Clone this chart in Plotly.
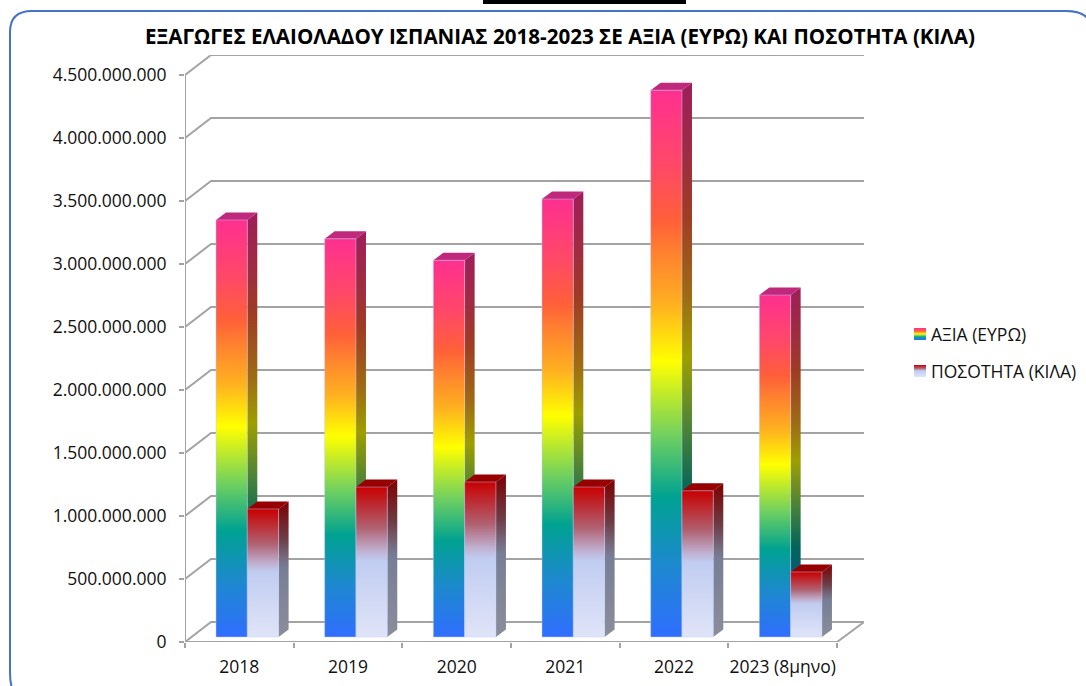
import plotly.graph_objects as go

categories = ["2018", "2019", "2020", "2021", "2022", "2023 (8μηνο)"]
value_eur = [3.31e9, 3.16e9, 2.99e9, 3.476e9, 4.34e9, 2.714e9]
quantity_kg = [1.016e9, 1.19e9, 1.23e9, 1.19e9, 1.16e9, 0.516e9]
y_ticks = [i * 5e8 for i in range(10)]
title = "ΕΞΑΓΩΓΕΣ ΕΛΑΙΟΛΑΔΟΥ ΙΣΠΑΝΙΑΣ 2018-2023 ΣΕ ΑΞΙΑ (ΕΥΡΩ) ΚΑΙ ΠΟΣΟΤΗΤΑ (ΚΙΛΑ)"
series_names = ["ΑΞΙΑ (ΕΥΡΩ)", "ΠΟΣΟΤΗΤΑ (ΚΙΛΑ)"]

W, H = 1086, 686
FONT = "Open Sans"
GRID = "#a3a3a3"
# pixel geometry of the pseudo-3D box
L, R, T, B = 185, 864, 55, 642
CAT_PX, STEP_PX = 108.67, 63.0
DX = 1 / CAT_PX      # category units per px
DY = 5e8 / STEP_PX   # value units per px

rainbow = [(0, (48, 110, 255)), (0.128, (30, 136, 208)), (0.256, (0, 162, 145)),
           (0.368, (112, 208, 96)), (0.504, (255, 255, 0)), (0.608, (255, 176, 32)),
           (0.704, (255, 128, 48)), (0.76, (255, 96, 56)), (0.864, (255, 72, 104)), (1, (255, 48, 144))]
redfade = [(0, (224, 228, 248)), (0.51, (192, 204, 240)), (0.576, (192, 176, 208)),
           (0.73, (176, 96, 112)), (1, (200, 0, 0))]


def scale(stops, k=1.0):
    return [[p, "rgb(%d,%d,%d)" % tuple(round(c * k) for c in col)] for p, col in stops]


fig = go.Figure()


def line(xs, ys, color=GRID, width=2):
    fig.add_trace(go.Scatter(x=xs, y=ys, mode="lines", line=dict(color=color, width=width),
                             hoverinfo="skip", showlegend=False, cliponaxis=False))


# walls: oblique lines on the left wall, horizontal lines on the back wall
for v in y_ticks:
    line([0, 26 * DX, (R - L) * DX], [v, v + 20 * DY, v + 20 * DY])
line([6, (R - L) * DX], [0, 20 * DY])
line([0, 0], [0, 4.5e9])
line([0, 6], [0, 0])


def bar(i, lo_px, val, stops, top_col, name):
    x0 = i + lo_px * DX
    x1 = x0 + 31.3 * DX
    base = 5 * DY
    h = base + val
    sx, sy = 10 * DX, 7.5 * DY
    fig.add_trace(go.Scatter(x=[x1, x1 + sx, x1 + sx, x1, x1], y=[base, base + sy, h + sy, h, base],
                             mode="none", fill="toself", showlegend=False, hoverinfo="skip",
                             fillgradient=dict(type="vertical", colorscale=scale(stops, 0.62)),
                             cliponaxis=False))
    fig.add_trace(go.Scatter(x=[x0, x1, x1 + sx, x0 + sx, x0], y=[h, h, h + sy, h + sy, h],
                             mode="none", fill="toself", fillcolor=top_col, showlegend=False,
                             hoverinfo="skip", cliponaxis=False))
    fig.add_trace(go.Scatter(x=[x0, x1, x1, x0, x0], y=[base, base, h, h, base],
                             mode="lines", line=dict(color="rgba(190,205,255,0.45)", width=1),
                             fill="toself", name=name, showlegend=False,
                             hoverinfo="skip",
                             fillgradient=dict(type="vertical", colorscale=scale(stops)),
                             cliponaxis=False))


for i, cat in enumerate(categories):
    bar(i, 31, value_eur[i], rainbow, "#c0287c", series_names[0])
    bar(i, 62.3, quantity_kg[i], redfade, "#960000", series_names[1])

# key: gradient swatches beside the series names, on a hidden pixel-scaled axis pair
annotations = []
for name, stops, y_px in zip(series_names, (rainbow, redfade), (334, 371)):
    x0, x1 = 914, 926
    y0, y1 = y_px - 6, y_px + 6
    fig.add_trace(go.Scatter(x=[x0, x1, x1, x0, x0], y=[y0, y0, y1, y1, y0], mode="none", fill="toself",
                             xaxis="x2", yaxis="y2", showlegend=False, hoverinfo="skip",
                             fillgradient=dict(type="vertical", colorscale=scale(stops))))
    annotations.append(dict(text=name, xref="paper", yref="paper", x=931 / W, y=1 - (y_px - 0.5) / H,
                            xanchor="left", yanchor="middle", showarrow=False,
                            font=dict(family=FONT, size=17.5), xshift=-2))

px_y = lambda y: (H - y) / H
px_x = lambda x: x / W
f = lambda x, y: f"{px_x(x):.5f},{px_y(y):.5f}"
border = ("M " + f(1092, 700) + " L " + f(26, 700) + " Q " + f(10, 700) + " " + f(10, 672)
          + " L " + f(10, 32) + " Q " + f(10, 11) + " " + f(32, 11)
          + " L " + f(1066, 11) + " Q " + f(1092, 11) + " " + f(1092, 32) + " Z")

fig.update_layout(
    width=W, height=H, autosize=False, paper_bgcolor="white", plot_bgcolor="white",
    margin=dict(l=0, r=0, t=0, b=0), separators=",.", showlegend=False,
    font=dict(family=FONT, size=17.5, color="#111111"),
    title=dict(text="<b>" + title + "</b>", x=560 / W, y=1 - 37 / H, xanchor="center", yanchor="middle",
               font=dict(family=FONT, size=20.6, color="#000000")),
    xaxis=dict(domain=[L / W, R / W], range=[0, (R - L) * DX], showgrid=False, zeroline=False, showline=False,
               automargin=False,
               tickmode="array", tickvals=[i + 0.5 for i in range(6)], ticktext=categories, ticks="",
               ticklabelstandoff=12,
               minor=dict(tickmode="array", tickvals=list(range(7)), ticks="outside", ticklen=5,
                          tickcolor=GRID, tickwidth=2, showgrid=False)),
    yaxis=dict(domain=[(H - B) / H, (H - T) / H], range=[0, (B - T) * DY], showgrid=False, zeroline=False,
               automargin=False,
               showline=False, tickmode="array", tickvals=y_ticks, tickformat=",d", ticks="outside",
               ticklen=5, tickcolor=GRID, tickwidth=2, ticklabelstandoff=9),
    xaxis2=dict(domain=[900 / W, 940 / W], range=[900, 940], visible=False, anchor="y2", automargin=False),
    yaxis2=dict(domain=[1 - 390 / H, 1 - 320 / H], range=[390, 320], visible=False, anchor="x2", automargin=False),
    annotations=annotations,
    shapes=[
        dict(type="path", path=border, xref="paper", yref="paper", line=dict(color="#4472c4", width=2)),
        dict(type="rect", xref="paper", yref="paper", x0=483 / W, x1=686 / W, y0=1 - 4 / H, y1=1,
             line=dict(width=0), fillcolor="black"),
    ],
)

fig.write_html("out.html", config=dict(displayModeBar=False),
               post_script="document.body.style.margin='0';document.documentElement.style.overflow='hidden';")
